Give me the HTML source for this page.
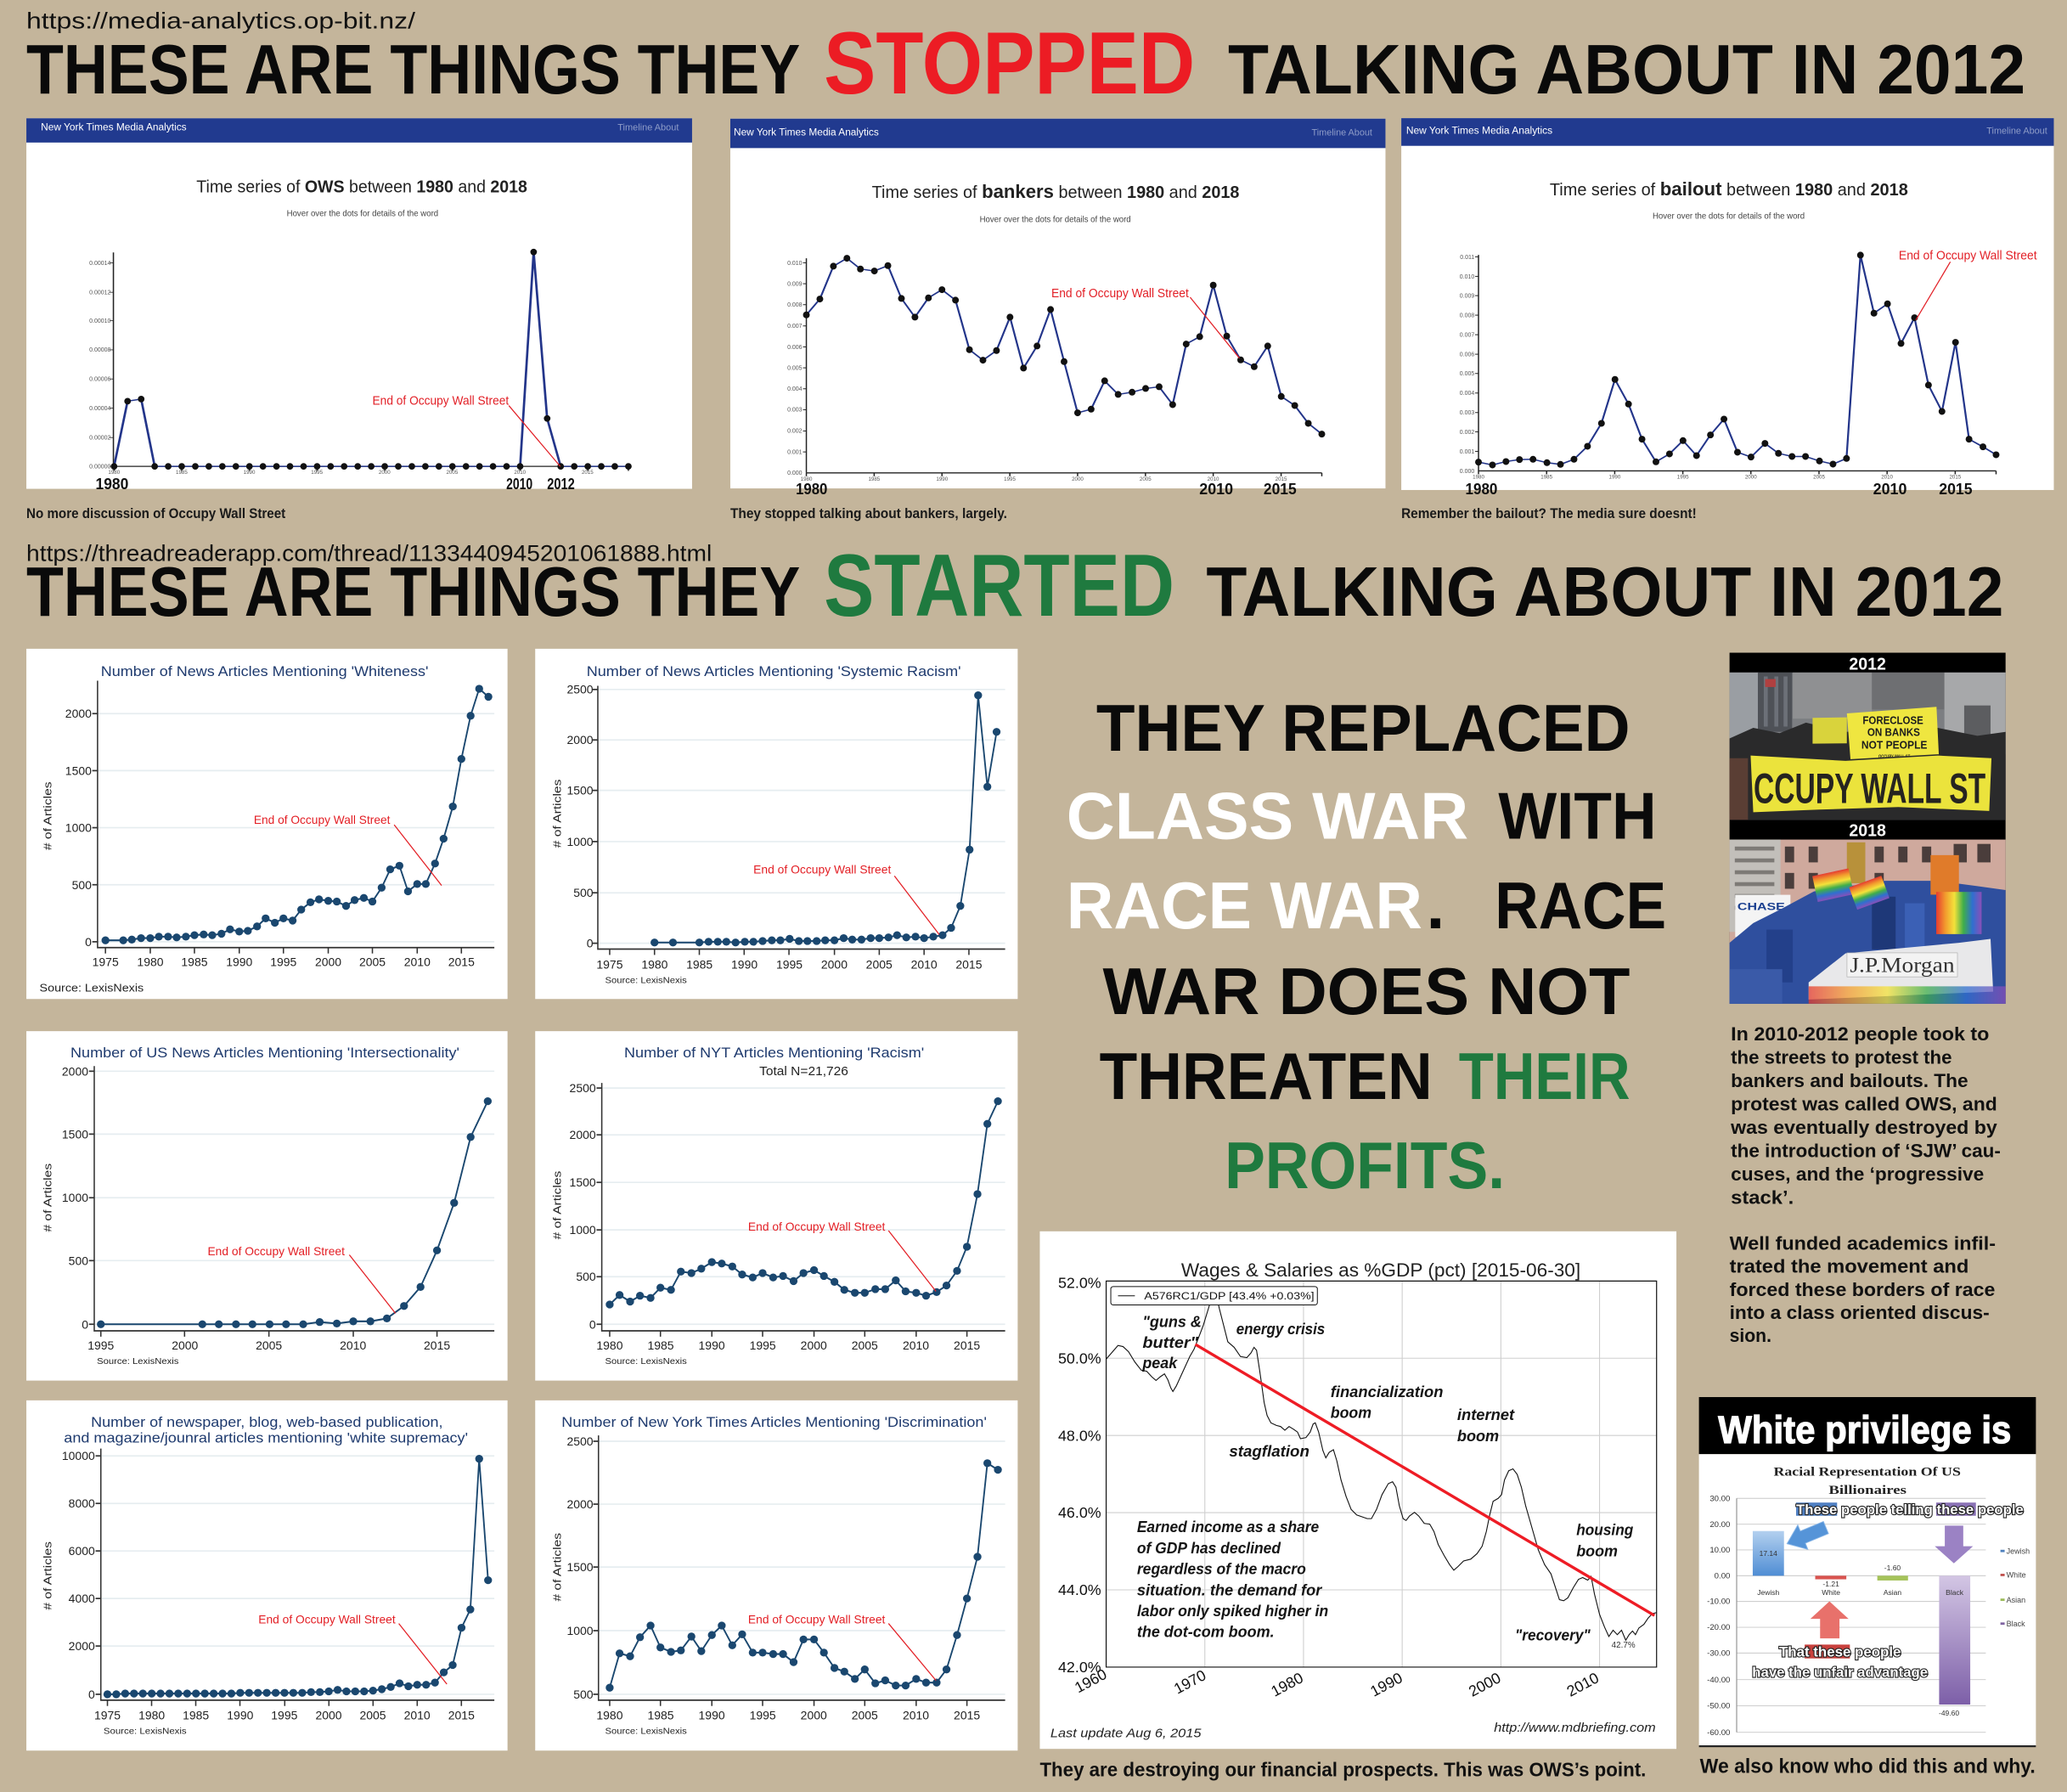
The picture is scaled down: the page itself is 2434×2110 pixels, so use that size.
<!DOCTYPE html>
<html><head><meta charset="utf-8">
<style>
html,body{margin:0;padding:0;background:#c4b59b;overflow:hidden}
svg{display:block}
text{font-family:"Liberation Sans",sans-serif}
.serif{font-family:"Liberation Serif",serif}
.narrow{font-family:"Liberation Sans Narrow","Liberation Sans",sans-serif}
</style></head><body>
<svg xmlns="http://www.w3.org/2000/svg" width="2434" height="2110" viewBox="0 0 1568 1359" preserveAspectRatio="none">
<defs>
<marker id="mO" markerUnits="userSpaceOnUse" markerWidth="1" markerHeight="1" refX="0" refY="0" overflow="visible" style="overflow:visible"><ellipse cx="0" cy="0" rx="5" ry="9.5" fill="#111"/></marker>
<marker id="mT" markerUnits="userSpaceOnUse" markerWidth="1" markerHeight="1" refX="0" refY="0" overflow="visible" style="overflow:visible"><ellipse cx="0" cy="0" rx="8" ry="12" fill="#111"/></marker>
<marker id="mB" markerUnits="userSpaceOnUse" markerWidth="1" markerHeight="1" refX="0" refY="0" overflow="visible" style="overflow:visible"><ellipse cx="0" cy="0" rx="6" ry="5.4" fill="#1a476f"/></marker>
<linearGradient id="gJew" x1="0" y1="0" x2="0" y2="1"><stop offset="0" stop-color="#b3d0ef"/><stop offset="1" stop-color="#4f8dd4"/></linearGradient>
<linearGradient id="gBlk" x1="0" y1="0" x2="0" y2="1"><stop offset="0" stop-color="#d3c6e4"/><stop offset="1" stop-color="#7d5fa8"/></linearGradient>
<linearGradient id="rainbow" x1="0" y1="0" x2="1" y2="0"><stop offset="0" stop-color="#e53b30"/><stop offset=".2" stop-color="#f29a2e"/><stop offset=".4" stop-color="#f4e23a"/><stop offset=".6" stop-color="#3fae4a"/><stop offset=".8" stop-color="#2f6fd0"/><stop offset="1" stop-color="#8a4fb8"/></linearGradient>
<linearGradient id="rainbowV" x1="0" y1="0" x2="0" y2="1"><stop offset="0" stop-color="#e53b30"/><stop offset=".2" stop-color="#f29a2e"/><stop offset=".4" stop-color="#f4e23a"/><stop offset=".6" stop-color="#3fae4a"/><stop offset=".8" stop-color="#2f6fd0"/><stop offset="1" stop-color="#8a4fb8"/></linearGradient>
</defs>
<rect x="0" y="0" width="1568" height="1359" fill="#c4b59b"/>

<!-- ===== HEADER ROW 1 ===== -->
<text x="20" y="21.5" font-size="17" fill="#111" textLength="295" lengthAdjust="spacingAndGlyphs">https://media-analytics.op-bit.nz/</text>
<text x="20" y="71" font-size="53" font-weight="bold" fill="#0a0a0a" textLength="587" lengthAdjust="spacingAndGlyphs">THESE ARE THINGS THEY</text>
<text x="625" y="71" font-size="67" font-weight="bold" fill="#ec1c24" textLength="281.5" lengthAdjust="spacingAndGlyphs">STOPPED</text>
<text x="931.5" y="71" font-size="53" font-weight="bold" fill="#0a0a0a" textLength="605" lengthAdjust="spacingAndGlyphs">TALKING ABOUT IN 2012</text>

<!-- ===== PANEL 1: OWS ===== -->
<rect x="20" y="89.7" width="505" height="281" fill="#fff"/>
<rect x="20" y="89.7" width="505" height="18.4" fill="#213a8f"/>
<text x="31" y="98.8" font-size="7.5" fill="#fff" textLength="110.5" lengthAdjust="spacingAndGlyphs">New York Times Media Analytics</text>
<text x="468.5" y="98.8" font-size="7" fill="#8e9cc8" textLength="46.5" lengthAdjust="spacingAndGlyphs">Timeline  About</text>
<text x="149" y="146" font-size="13" fill="#222" textLength="251" lengthAdjust="spacingAndGlyphs">Time series of <tspan font-weight="bold">OWS</tspan> between <tspan font-weight="bold">1980</tspan> and <tspan font-weight="bold">2018</tspan></text>
<text x="275" y="163.8" font-size="6.3" fill="#444" text-anchor="middle" textLength="115" lengthAdjust="spacingAndGlyphs">Hover over the dots for details of the word</text>
<g transform="matrix(0.5002 0 0 0.26295 0 0)">
<line x1="172" y1="728" x2="172" y2="1345" stroke="#222" stroke-width="2"/>
<line x1="172" y1="1345" x2="953" y2="1345" stroke="#222" stroke-width="3"/>
<g stroke="#222" stroke-width="2">
<line x1="166" y1="758" x2="172" y2="758"/><line x1="166" y1="843" x2="172" y2="843"/><line x1="166" y1="925" x2="172" y2="925"/><line x1="166" y1="1009" x2="172" y2="1009"/><line x1="166" y1="1093" x2="172" y2="1093"/><line x1="166" y1="1177" x2="172" y2="1177"/><line x1="166" y1="1262" x2="172" y2="1262"/><line x1="166" y1="1345" x2="172" y2="1345"/>
<line x1="173" y1="1345" x2="173" y2="1358"/><line x1="275.6" y1="1345" x2="275.6" y2="1358"/><line x1="378.3" y1="1345" x2="378.3" y2="1358"/><line x1="480.9" y1="1345" x2="480.9" y2="1358"/><line x1="583.5" y1="1345" x2="583.5" y2="1358"/><line x1="686.1" y1="1345" x2="686.1" y2="1358"/><line x1="788.8" y1="1345" x2="788.8" y2="1358"/><line x1="891.4" y1="1345" x2="891.4" y2="1358"/><line x1="953" y1="1345" x2="953" y2="1358"/>
</g>
<polyline fill="none" stroke="#23358a" stroke-width="3.5" marker-start="url(#mO)" marker-mid="url(#mO)" marker-end="url(#mO)" points="173,1345 193.5,1157 214.1,1151 234.6,1345 255.1,1345 275.6,1345 296.2,1345 316.7,1345 337.2,1345 357.7,1345 378.3,1345 398.8,1345 419.3,1345 439.8,1345 460.4,1345 480.9,1345 501.4,1345 521.9,1345 542.5,1345 563,1345 583.5,1345 604,1345 624.6,1345 645.1,1345 665.6,1345 686.1,1345 706.7,1345 727.2,1345 747.7,1345 768.2,1345 788.8,1345 809.3,727 829.8,1207 850.3,1345 870.9,1345 891.4,1345 911.9,1345 932.4,1345 953,1345"/>
</g>
<g font-size="4.5" fill="#555" text-anchor="end">
<text x="84" y="200.8">0.00014</text><text x="84" y="223.2">0.00012</text><text x="84" y="244.7">0.00010</text><text x="84" y="266.8">0.00008</text><text x="84" y="288.9">0.00006</text><text x="84" y="311">0.00004</text><text x="84" y="333.3">0.00002</text><text x="84" y="355.2">0.00000</text>
</g>
<g font-size="4" fill="#555" text-anchor="middle">
<text x="86.5" y="359.5">1980</text><text x="137.8" y="359.5">1985</text><text x="189.1" y="359.5">1990</text><text x="240.4" y="359.5">1995</text><text x="291.7" y="359.5">2000</text><text x="343" y="359.5">2005</text><text x="394.4" y="359.5">2010</text><text x="445.7" y="359.5">2015</text>
</g>
<text x="282.5" y="306.8" font-size="9.5" fill="#e21f26" textLength="103.5" lengthAdjust="spacingAndGlyphs">End of Occupy Wall Street</text>
<line x1="386" y1="307.6" x2="425" y2="353.7" stroke="#e21f26" stroke-width="0.8"/>
<g font-size="12" font-weight="bold" fill="#111">
<text x="72.5" y="371" textLength="25" lengthAdjust="spacingAndGlyphs">1980</text>
<text x="384" y="371" textLength="20" lengthAdjust="spacingAndGlyphs">2010</text>
<text x="415" y="371" textLength="21" lengthAdjust="spacingAndGlyphs">2012</text>
</g>
<text x="20" y="393" font-size="11" font-weight="bold" fill="#1a1a1a" textLength="196.6" lengthAdjust="spacingAndGlyphs">No more discussion of Occupy Wall Street</text>

<!-- ===== PANEL 2: bankers ===== -->
<rect x="554" y="90" width="497" height="280.4" fill="#fff"/>
<rect x="554" y="90" width="497" height="22.3" fill="#213a8f"/>
<text x="556.6" y="102.6" font-size="7.5" fill="#fff" textLength="110" lengthAdjust="spacingAndGlyphs">New York Times Media Analytics</text>
<text x="995" y="102.6" font-size="7" fill="#8e9cc8" textLength="46" lengthAdjust="spacingAndGlyphs">Timeline  About</text>
<text x="661.4" y="150" font-size="13" fill="#222" textLength="278.8" lengthAdjust="spacingAndGlyphs">Time series of <tspan font-weight="bold" font-size="14.5">bankers</tspan> between <tspan font-weight="bold">1980</tspan> and <tspan font-weight="bold">2018</tspan></text>
<text x="800.5" y="168.3" font-size="6.3" fill="#444" text-anchor="middle" textLength="114.7" lengthAdjust="spacingAndGlyphs">Hover over the dots for details of the word</text>
<g transform="matrix(0.3205 0 0 0.21474 554.0 90.19)">
<line x1="180" y1="492" x2="180" y2="1250" stroke="#222" stroke-width="3"/>
<line x1="180" y1="1250" x2="1400" y2="1250" stroke="#222" stroke-width="4"/>
<g stroke="#222" stroke-width="3">
<line x1="172" y1="508" x2="180" y2="508"/><line x1="172" y1="582" x2="180" y2="582"/><line x1="172" y1="656" x2="180" y2="656"/><line x1="172" y1="731" x2="180" y2="731"/><line x1="172" y1="805" x2="180" y2="805"/><line x1="172" y1="879" x2="180" y2="879"/><line x1="172" y1="953" x2="180" y2="953"/><line x1="172" y1="1027" x2="180" y2="1027"/><line x1="172" y1="1102" x2="180" y2="1102"/><line x1="172" y1="1176" x2="180" y2="1176"/>
<line x1="180" y1="1250" x2="180" y2="1262"/><line x1="340.5" y1="1250" x2="340.5" y2="1262"/><line x1="501" y1="1250" x2="501" y2="1262"/><line x1="661.6" y1="1250" x2="661.6" y2="1262"/><line x1="822" y1="1250" x2="822" y2="1262"/><line x1="982.6" y1="1250" x2="982.6" y2="1262"/><line x1="1143" y1="1250" x2="1143" y2="1262"/><line x1="1303.7" y1="1250" x2="1303.7" y2="1262"/><line x1="1400" y1="1250" x2="1400" y2="1262"/>
</g>
<polyline fill="none" stroke="#23358a" stroke-width="4.5" marker-start="url(#mT)" marker-mid="url(#mT)" marker-end="url(#mT)" points="180,692 212,636 244,520 276,492 308,530 341,537 373,518 405,634 437,700 469,632 501,603 533,640 566,815 598,852 630,818 662,700 694,880 726,802 758,673 790,857 822,1038 854,1025 886,925 918,973 951,965 983,952 1015,946 1047,1009 1079,795 1111,769 1143,587 1175,767 1208,851 1240,875 1272,802 1304,980 1336,1012 1368,1075 1400,1113"/>
</g>
<g font-size="4.5" fill="#555" text-anchor="end">
<text x="608.5" y="200.8">0.010</text><text x="608.5" y="216.7">0.009</text><text x="608.5" y="232.6">0.008</text><text x="608.5" y="248.7">0.007</text><text x="608.5" y="264.6">0.006</text><text x="608.5" y="280.5">0.005</text><text x="608.5" y="296.3">0.004</text><text x="608.5" y="312.2">0.003</text><text x="608.5" y="328.3">0.002</text><text x="608.5" y="344.2">0.001</text><text x="608.5" y="360.1">0.000</text>
</g>
<g font-size="4" fill="#555" text-anchor="middle">
<text x="611.7" y="364.5">1980</text><text x="663.1" y="364.5">1985</text><text x="714.6" y="364.5">1990</text><text x="766" y="364.5">1995</text><text x="817.5" y="364.5">2000</text><text x="868.9" y="364.5">2005</text><text x="920.3" y="364.5">2010</text><text x="971.8" y="364.5">2015</text>
</g>
<text x="797.5" y="225.5" font-size="9.5" fill="#e21f26" textLength="104.3" lengthAdjust="spacingAndGlyphs">End of Occupy Wall Street</text>
<line x1="902.8" y1="225.4" x2="940.2" y2="271.6" stroke="#e21f26" stroke-width="0.8"/>
<g font-size="12" font-weight="bold" fill="#111">
<text x="603.7" y="375" textLength="24" lengthAdjust="spacingAndGlyphs">1980</text>
<text x="909.8" y="375" textLength="25.6" lengthAdjust="spacingAndGlyphs">2010</text>
<text x="958.5" y="375" textLength="25" lengthAdjust="spacingAndGlyphs">2015</text>
</g>
<text x="554" y="393" font-size="11" font-weight="bold" fill="#1a1a1a" textLength="210" lengthAdjust="spacingAndGlyphs">They stopped talking about bankers, largely.</text>

<!-- ===== PANEL 3: bailout ===== -->
<rect x="1063" y="89.6" width="495" height="282" fill="#fff"/>
<rect x="1063" y="89.6" width="495" height="21" fill="#213a8f"/>
<text x="1066.7" y="101.4" font-size="7.5" fill="#fff" textLength="111" lengthAdjust="spacingAndGlyphs">New York Times Media Analytics</text>
<text x="1507" y="101.4" font-size="7" fill="#8e9cc8" textLength="46" lengthAdjust="spacingAndGlyphs">Timeline  About</text>
<text x="1175.6" y="148.2" font-size="13" fill="#222" textLength="271.8" lengthAdjust="spacingAndGlyphs">Time series of <tspan font-weight="bold" font-size="14.5">bailout</tspan> between <tspan font-weight="bold">1980</tspan> and <tspan font-weight="bold">2018</tspan></text>
<text x="1311.3" y="165.8" font-size="6.3" fill="#444" text-anchor="middle" textLength="115.4" lengthAdjust="spacingAndGlyphs">Hover over the dots for details of the word</text>
<g transform="matrix(0.3205 0 0 0.21474 1059.72 90.19)">
<line x1="193" y1="480" x2="193" y2="1243" stroke="#222" stroke-width="3"/>
<line x1="193" y1="1243" x2="1418" y2="1243" stroke="#222" stroke-width="4"/>
<g stroke="#222" stroke-width="3">
<line x1="185" y1="487" x2="193" y2="487"/><line x1="185" y1="556" x2="193" y2="556"/><line x1="185" y1="624" x2="193" y2="624"/><line x1="185" y1="693" x2="193" y2="693"/><line x1="185" y1="762" x2="193" y2="762"/><line x1="185" y1="831" x2="193" y2="831"/><line x1="185" y1="899" x2="193" y2="899"/><line x1="185" y1="968" x2="193" y2="968"/><line x1="185" y1="1037" x2="193" y2="1037"/><line x1="185" y1="1105" x2="193" y2="1105"/><line x1="185" y1="1174" x2="193" y2="1174"/>
<line x1="193" y1="1243" x2="193" y2="1255"/><line x1="354.2" y1="1243" x2="354.2" y2="1255"/><line x1="515.4" y1="1243" x2="515.4" y2="1255"/><line x1="676.6" y1="1243" x2="676.6" y2="1255"/><line x1="837.7" y1="1243" x2="837.7" y2="1255"/><line x1="998.9" y1="1243" x2="998.9" y2="1255"/><line x1="1160.1" y1="1243" x2="1160.1" y2="1255"/><line x1="1321.3" y1="1243" x2="1321.3" y2="1255"/><line x1="1418" y1="1243" x2="1418" y2="1255"/>
</g>
<polyline fill="none" stroke="#23358a" stroke-width="4.5" marker-start="url(#mT)" marker-mid="url(#mT)" marker-end="url(#mT)" points="193,1212 226,1222 258,1210 290,1203 322,1202 355,1214 387,1220 419,1202 451,1156 484,1075 516,920 548,1007 580,1131 613,1211 645,1183 677,1136 709,1189 742,1116 774,1060 806,1177 838,1194 871,1146 903,1181 935,1192 967,1192 1000,1208 1032,1219 1064,1199 1097,481 1129,686 1161,653 1193,793 1225,702 1258,940 1290,1033 1322,789 1354,1131 1387,1158 1418,1186"/>
</g>
<g font-size="4.5" fill="#555" text-anchor="end">
<text x="1118.5" y="196.3">0.011</text><text x="1118.5" y="211.1">0.010</text><text x="1118.5" y="225.7">0.009</text><text x="1118.5" y="240.5">0.008</text><text x="1118.5" y="255.3">0.007</text><text x="1118.5" y="270.1">0.006</text><text x="1118.5" y="284.7">0.005</text><text x="1118.5" y="299.6">0.004</text><text x="1118.5" y="314.4">0.003</text><text x="1118.5" y="329">0.002</text><text x="1118.5" y="343.8">0.001</text><text x="1118.5" y="358.6">0.000</text>
</g>
<g font-size="4" fill="#555" text-anchor="middle">
<text x="1121.6" y="363">1980</text><text x="1173.2" y="363">1985</text><text x="1224.9" y="363">1990</text><text x="1276.6" y="363">1995</text><text x="1328.2" y="363">2000</text><text x="1379.9" y="363">2005</text><text x="1431.5" y="363">2010</text><text x="1483.2" y="363">2015</text>
</g>
<text x="1440.4" y="196.8" font-size="9.5" fill="#e21f26" textLength="104.8" lengthAdjust="spacingAndGlyphs">End of Occupy Wall Street</text>
<line x1="1479.5" y1="198.6" x2="1453.3" y2="242.7" stroke="#e21f26" stroke-width="0.8"/>
<g font-size="12" font-weight="bold" fill="#111">
<text x="1111.6" y="375" textLength="24.4" lengthAdjust="spacingAndGlyphs">1980</text>
<text x="1420.9" y="375" textLength="25.6" lengthAdjust="spacingAndGlyphs">2010</text>
<text x="1470.9" y="375" textLength="25.3" lengthAdjust="spacingAndGlyphs">2015</text>
</g>
<text x="1063" y="393" font-size="11" font-weight="bold" fill="#1a1a1a" textLength="224" lengthAdjust="spacingAndGlyphs">Remember the bailout? The media sure doesnt!</text>

<!-- ===== HEADER ROW 2 ===== -->
<text x="20" y="425.5" font-size="17" fill="#111" textLength="520" lengthAdjust="spacingAndGlyphs">https://threadreaderapp.com/thread/1133440945201061888.html</text>
<text x="20" y="467" font-size="53" font-weight="bold" fill="#0a0a0a" textLength="587" lengthAdjust="spacingAndGlyphs">THESE ARE THINGS THEY</text>
<text x="625" y="467" font-size="67" font-weight="bold" fill="#1f7a3f" textLength="266" lengthAdjust="spacingAndGlyphs">STARTED</text>
<text x="915" y="467" font-size="53" font-weight="bold" fill="#0a0a0a" textLength="605" lengthAdjust="spacingAndGlyphs">TALKING ABOUT IN 2012</text>

<!-- ===== SIX STATA CHARTS: boxes ===== -->
<g fill="#fff">
<rect x="20" y="492" width="365" height="265.6"/>
<rect x="406" y="492" width="366" height="265.6"/>
<rect x="20" y="782" width="365" height="265"/>
<rect x="406" y="782" width="366" height="265"/>
<rect x="20" y="1062" width="365" height="265.6"/>
<rect x="406" y="1062" width="366" height="265.6"/>
</g>
<g transform="matrix(0.5 0 0 0.5546 0 489.6)">
<!-- gridlines -->
<g stroke="#e6edf0" stroke-width="2">
<line x1="148" y1="93" x2="750" y2="93"/><line x1="148" y1="171" x2="750" y2="171"/><line x1="148" y1="249" x2="750" y2="249"/><line x1="148" y1="327" x2="750" y2="327"/><line x1="148" y1="405" x2="750" y2="405"/>
<line x1="907" y1="60" x2="1525" y2="60"/><line x1="907" y1="129" x2="1525" y2="129"/><line x1="907" y1="198" x2="1525" y2="198"/><line x1="907" y1="268" x2="1525" y2="268"/><line x1="907" y1="338" x2="1525" y2="338"/><line x1="907" y1="407" x2="1525" y2="407"/>
<line x1="143" y1="582" x2="750" y2="582"/><line x1="143" y1="668" x2="750" y2="668"/><line x1="143" y1="755" x2="750" y2="755"/><line x1="143" y1="841" x2="750" y2="841"/><line x1="143" y1="928" x2="750" y2="928"/>
<line x1="913" y1="605" x2="1525" y2="605"/><line x1="913" y1="669" x2="1525" y2="669"/><line x1="913" y1="734" x2="1525" y2="734"/><line x1="913" y1="799" x2="1525" y2="799"/><line x1="913" y1="863" x2="1525" y2="863"/><line x1="913" y1="928" x2="1525" y2="928"/>
<line x1="153" y1="1108" x2="750" y2="1108"/><line x1="153" y1="1173" x2="750" y2="1173"/><line x1="153" y1="1238" x2="750" y2="1238"/><line x1="153" y1="1303" x2="750" y2="1303"/><line x1="153" y1="1368" x2="750" y2="1368"/><line x1="153" y1="1434" x2="750" y2="1434"/>
<line x1="908" y1="1088" x2="1525" y2="1088"/><line x1="908" y1="1174" x2="1525" y2="1174"/><line x1="908" y1="1260" x2="1525" y2="1260"/><line x1="908" y1="1347" x2="1525" y2="1347"/><line x1="908" y1="1434" x2="1525" y2="1434"/>
</g>
<!-- axes -->
<g stroke="#333" stroke-width="2" fill="none">
<polyline points="148,48 148,413 750,413"/>
<polyline points="907,55 907,415 1525,415"/>
<polyline points="143,575 143,937 750,937"/>
<polyline points="913,598 913,937 1525,937"/>
<polyline points="153,1098 153,1442 750,1442"/>
<polyline points="908,1080 908,1442 1525,1442"/>
</g>
<g stroke="#333" stroke-width="2">
<line x1="140" y1="93" x2="148" y2="93"/><line x1="140" y1="171" x2="148" y2="171"/><line x1="140" y1="249" x2="148" y2="249"/><line x1="140" y1="327" x2="148" y2="327"/><line x1="140" y1="405" x2="148" y2="405"/>
<line x1="160" y1="413" x2="160" y2="421"/><line x1="228" y1="413" x2="228" y2="421"/><line x1="295" y1="413" x2="295" y2="421"/><line x1="363" y1="413" x2="363" y2="421"/><line x1="430" y1="413" x2="430" y2="421"/><line x1="498" y1="413" x2="498" y2="421"/><line x1="565" y1="413" x2="565" y2="421"/><line x1="633" y1="413" x2="633" y2="421"/><line x1="700" y1="413" x2="700" y2="421"/>
<line x1="899" y1="60" x2="907" y2="60"/><line x1="899" y1="129" x2="907" y2="129"/><line x1="899" y1="198" x2="907" y2="198"/><line x1="899" y1="268" x2="907" y2="268"/><line x1="899" y1="338" x2="907" y2="338"/><line x1="899" y1="407" x2="907" y2="407"/>
<line x1="925" y1="415" x2="925" y2="423"/><line x1="993" y1="415" x2="993" y2="423"/><line x1="1061" y1="415" x2="1061" y2="423"/><line x1="1129" y1="415" x2="1129" y2="423"/><line x1="1197" y1="415" x2="1197" y2="423"/><line x1="1266" y1="415" x2="1266" y2="423"/><line x1="1334" y1="415" x2="1334" y2="423"/><line x1="1402" y1="415" x2="1402" y2="423"/><line x1="1470" y1="415" x2="1470" y2="423"/>
<line x1="135" y1="582" x2="143" y2="582"/><line x1="135" y1="668" x2="143" y2="668"/><line x1="135" y1="755" x2="143" y2="755"/><line x1="135" y1="841" x2="143" y2="841"/><line x1="135" y1="928" x2="143" y2="928"/>
<line x1="153" y1="937" x2="153" y2="945"/><line x1="280" y1="937" x2="280" y2="945"/><line x1="408" y1="937" x2="408" y2="945"/><line x1="536" y1="937" x2="536" y2="945"/><line x1="663" y1="937" x2="663" y2="945"/>
<line x1="905" y1="605" x2="913" y2="605"/><line x1="905" y1="669" x2="913" y2="669"/><line x1="905" y1="734" x2="913" y2="734"/><line x1="905" y1="799" x2="913" y2="799"/><line x1="905" y1="863" x2="913" y2="863"/><line x1="905" y1="928" x2="913" y2="928"/>
<line x1="925" y1="937" x2="925" y2="945"/><line x1="1002" y1="937" x2="1002" y2="945"/><line x1="1080" y1="937" x2="1080" y2="945"/><line x1="1157" y1="937" x2="1157" y2="945"/><line x1="1235" y1="937" x2="1235" y2="945"/><line x1="1312" y1="937" x2="1312" y2="945"/><line x1="1390" y1="937" x2="1390" y2="945"/><line x1="1467" y1="937" x2="1467" y2="945"/>
<line x1="145" y1="1108" x2="153" y2="1108"/><line x1="145" y1="1173" x2="153" y2="1173"/><line x1="145" y1="1238" x2="153" y2="1238"/><line x1="145" y1="1303" x2="153" y2="1303"/><line x1="145" y1="1368" x2="153" y2="1368"/><line x1="145" y1="1434" x2="153" y2="1434"/>
<line x1="163" y1="1442" x2="163" y2="1450"/><line x1="230" y1="1442" x2="230" y2="1450"/><line x1="297" y1="1442" x2="297" y2="1450"/><line x1="364" y1="1442" x2="364" y2="1450"/><line x1="432" y1="1442" x2="432" y2="1450"/><line x1="499" y1="1442" x2="499" y2="1450"/><line x1="566" y1="1442" x2="566" y2="1450"/><line x1="633" y1="1442" x2="633" y2="1450"/><line x1="700" y1="1442" x2="700" y2="1450"/>
<line x1="900" y1="1088" x2="908" y2="1088"/><line x1="900" y1="1174" x2="908" y2="1174"/><line x1="900" y1="1260" x2="908" y2="1260"/><line x1="900" y1="1347" x2="908" y2="1347"/><line x1="900" y1="1434" x2="908" y2="1434"/>
<line x1="925" y1="1442" x2="925" y2="1450"/><line x1="1002" y1="1442" x2="1002" y2="1450"/><line x1="1080" y1="1442" x2="1080" y2="1450"/><line x1="1157" y1="1442" x2="1157" y2="1450"/><line x1="1235" y1="1442" x2="1235" y2="1450"/><line x1="1312" y1="1442" x2="1312" y2="1450"/><line x1="1390" y1="1442" x2="1390" y2="1450"/><line x1="1467" y1="1442" x2="1467" y2="1450"/>
</g>
<!-- series -->
<g fill="none" stroke="#1a476f" stroke-width="2.4" marker-start="url(#mB)" marker-mid="url(#mB)" marker-end="url(#mB)">
<polyline points="160,403 187,403 200,402 214,400 228,400 241,398 255,398 268,399 282,398 295,396 309,395 322,396 336,394 349,388 363,391 376,390 390,384 403,373 417,379 430,373 444,376 457,361 471,351 484,347 498,349 511,350 525,356 538,348 552,345 565,350 579,331 592,306 606,301 619,336 633,326 646,326 660,298 673,264 687,220 700,155 714,96 727,59 741,70"/>
<polyline points="993,406 1021,406 1061,406 1075,405 1089,405 1102,405 1116,406 1130,405 1143,405 1157,404 1171,403 1184,403 1198,401 1212,404 1225,404 1239,404 1252,403 1266,403 1280,400 1293,402 1307,402 1321,400 1334,400 1348,399 1361,396 1375,399 1389,398 1402,400 1416,398 1430,396 1443,386 1457,356 1471,279 1484,68 1498,193 1512,118"/>
<polyline points="153,928 307,928 332,928 358,928 383,928 409,928 434,928 460,928 485,925 511,927 536,924 562,924 587,920 613,903 638,877 663,827 689,762 714,672 740,623"/>
<polyline points="925,901 940,888 956,897 971,889 987,892 1002,878 1018,881 1033,856 1049,858 1064,852 1080,843 1095,845 1111,849 1126,860 1142,864 1157,858 1173,864 1188,862 1204,869 1219,858 1235,854 1250,862 1266,870 1281,881 1297,885 1312,885 1328,880 1343,880 1359,868 1374,883 1390,885 1405,889 1421,884 1436,875 1452,855 1467,822 1483,750 1498,654 1514,623"/>
<polyline points="163,1434 176.4,1434 189.9,1433 203.3,1433 216.7,1433 230.2,1433 243.6,1433 257,1433 270.4,1433 283.9,1433 297.3,1433 310.7,1433 324.2,1433 337.6,1433 351,1433 364.5,1432 377.9,1432 391.3,1432 404.7,1432 418.2,1432 431.6,1432 445,1432 458.5,1432 471.9,1431 485.3,1431 498.8,1430 512.2,1428 525.6,1430 539,1430 552.5,1430 565.9,1429 579.3,1427 592.8,1424 606.2,1419 619.6,1423 633,1421 646.5,1421 659.9,1418 673.3,1404 686.8,1394 700.2,1343 713.6,1318 727,1112 740.5,1278"/>
<polyline points="925,1425 940,1378 956,1382 971,1356 987,1340 1002,1370 1018,1376 1033,1374 1049,1355 1064,1375 1080,1353 1095,1340 1111,1367 1126,1352 1142,1377 1157,1377 1173,1379 1188,1379 1204,1390 1219,1359 1235,1359 1250,1377 1266,1398 1281,1403 1297,1413 1312,1400 1328,1419 1343,1415 1359,1422 1374,1422 1390,1413 1405,1418 1421,1418 1436,1400 1452,1353 1467,1303 1483,1246 1498,1118 1514,1127"/>
</g>
</g>
<!-- chart titles -->
<g font-size="10.5" fill="#1e3a6e">
<text x="76.5" y="512.8" textLength="248.5" lengthAdjust="spacingAndGlyphs">Number of News Articles Mentioning 'Whiteness'</text>
<text x="445" y="512.8" textLength="284" lengthAdjust="spacingAndGlyphs">Number of News Articles Mentioning 'Systemic Racism'</text>
<text x="53.5" y="801.8" textLength="295" lengthAdjust="spacingAndGlyphs">Number of US News Articles Mentioning 'Intersectionality'</text>
<text x="473.5" y="801.8" textLength="227.5" lengthAdjust="spacingAndGlyphs">Number of NYT Articles Mentioning 'Racism'</text>
<text x="69" y="1082" textLength="267" lengthAdjust="spacingAndGlyphs">Number of newspaper, blog, web-based publication,</text>
<text x="48.5" y="1094" textLength="306.5" lengthAdjust="spacingAndGlyphs">and magazine/jounral articles mentioning 'white supremacy'</text>
<text x="426" y="1082" textLength="322.5" lengthAdjust="spacingAndGlyphs">Number of New York Times Articles Mentioning 'Discrimination'</text>
</g>
<text x="576" y="815.5" font-size="9.5" fill="#222" textLength="67.5" lengthAdjust="spacingAndGlyphs">Total N=21,726</text>
<!-- y axis titles -->
<g font-size="8.5" fill="#222" text-anchor="middle">
<text transform="translate(39,618.8) rotate(-90)" textLength="52" lengthAdjust="spacingAndGlyphs"># of Articles</text>
<text transform="translate(425.5,617) rotate(-90)" textLength="52" lengthAdjust="spacingAndGlyphs"># of Articles</text>
<text transform="translate(39,908.3) rotate(-90)" textLength="52" lengthAdjust="spacingAndGlyphs"># of Articles</text>
<text transform="translate(425.5,914) rotate(-90)" textLength="52" lengthAdjust="spacingAndGlyphs"># of Articles</text>
<text transform="translate(39,1195) rotate(-90)" textLength="52" lengthAdjust="spacingAndGlyphs"># of Articles</text>
<text transform="translate(425.5,1188.5) rotate(-90)" textLength="52" lengthAdjust="spacingAndGlyphs"># of Articles</text>
</g>
<!-- sources -->
<text x="30" y="752" font-size="8.5" fill="#222" textLength="79" lengthAdjust="spacingAndGlyphs">Source: LexisNexis</text>
<g font-size="6.5" fill="#222">
<text x="459" y="745.5" textLength="62" lengthAdjust="spacingAndGlyphs">Source: LexisNexis</text>
<text x="73.5" y="1034.5" textLength="62" lengthAdjust="spacingAndGlyphs">Source: LexisNexis</text>
<text x="459" y="1034.5" textLength="62" lengthAdjust="spacingAndGlyphs">Source: LexisNexis</text>
<text x="78.5" y="1315" textLength="63" lengthAdjust="spacingAndGlyphs">Source: LexisNexis</text>
<text x="459" y="1315" textLength="62" lengthAdjust="spacingAndGlyphs">Source: LexisNexis</text>
</g>
<!-- y tick labels -->
<g font-size="9" fill="#222" text-anchor="end">
<text x="69.5" y="544.4">2000</text><text x="69.5" y="587.6">1500</text><text x="69.5" y="630.9">1000</text><text x="69.5" y="674.2">500</text><text x="69.5" y="717.4">0</text>
<text x="450" y="526">2500</text><text x="450" y="564.3">2000</text><text x="450" y="602.6">1500</text><text x="450" y="641.4">1000</text><text x="450" y="680.2">500</text><text x="450" y="718.5">0</text>
<text x="67" y="815.6">2000</text><text x="67" y="863.3">1500</text><text x="67" y="911.5">1000</text><text x="67" y="959.2">500</text><text x="67" y="1007.5">0</text>
<text x="452" y="828.4">2500</text><text x="452" y="863.8">2000</text><text x="452" y="899.9">1500</text><text x="452" y="935.9">1000</text><text x="452" y="971.4">500</text><text x="452" y="1007.5">0</text>
<text x="72" y="1107.3">10000</text><text x="72" y="1143.4">8000</text><text x="72" y="1179.4">6000</text><text x="72" y="1215.4">4000</text><text x="72" y="1251.5">2000</text><text x="72" y="1288.1">0</text>
<text x="450" y="1096.2">2500</text><text x="450" y="1143.9">2000</text><text x="450" y="1191.6">1500</text><text x="450" y="1239.8">1000</text><text x="450" y="1288.1">500</text>
</g>
<!-- x tick labels -->
<g font-size="9" fill="#222" text-anchor="middle">
<text x="80" y="732.5">1975</text><text x="114" y="732.5">1980</text><text x="147.5" y="732.5">1985</text><text x="181.5" y="732.5">1990</text><text x="215" y="732.5">1995</text><text x="249" y="732.5">2000</text><text x="282.5" y="732.5">2005</text><text x="316.5" y="732.5">2010</text><text x="350" y="732.5">2015</text>
<text x="462.5" y="734.5">1975</text><text x="496.6" y="734.5">1980</text><text x="530.6" y="734.5">1985</text><text x="564.7" y="734.5">1990</text><text x="598.8" y="734.5">1995</text><text x="632.9" y="734.5">2000</text><text x="666.9" y="734.5">2005</text><text x="701" y="734.5">2010</text><text x="735" y="734.5">2015</text>
<text x="76.5" y="1023.5">1995</text><text x="140.3" y="1023.5">2000</text><text x="204" y="1023.5">2005</text><text x="267.8" y="1023.5">2010</text><text x="331.5" y="1023.5">2015</text>
<text x="462.5" y="1023.5">1980</text><text x="501.2" y="1023.5">1985</text><text x="539.9" y="1023.5">1990</text><text x="578.6" y="1023.5">1995</text><text x="617.3" y="1023.5">2000</text><text x="656" y="1023.5">2005</text><text x="694.8" y="1023.5">2010</text><text x="733.5" y="1023.5">2015</text>
<text x="81.5" y="1304">1975</text><text x="115.1" y="1304">1980</text><text x="148.6" y="1304">1985</text><text x="182.2" y="1304">1990</text><text x="215.7" y="1304">1995</text><text x="249.3" y="1304">2000</text><text x="282.8" y="1304">2005</text><text x="316.4" y="1304">2010</text><text x="350" y="1304">2015</text>
<text x="462.5" y="1304">1980</text><text x="501.2" y="1304">1985</text><text x="539.9" y="1304">1990</text><text x="578.6" y="1304">1995</text><text x="617.3" y="1304">2000</text><text x="656" y="1304">2005</text><text x="694.8" y="1304">2010</text><text x="733.5" y="1304">2015</text>
</g>
<!-- red annotations -->
<g font-size="9" fill="#e31e24">
<text x="192.5" y="624.8" textLength="103.5" lengthAdjust="spacingAndGlyphs">End of Occupy Wall Street</text>
<text x="571.5" y="662.5" textLength="104.5" lengthAdjust="spacingAndGlyphs">End of Occupy Wall Street</text>
<text x="157.5" y="952" textLength="104" lengthAdjust="spacingAndGlyphs">End of Occupy Wall Street</text>
<text x="567.5" y="933.2" textLength="104" lengthAdjust="spacingAndGlyphs">End of Occupy Wall Street</text>
<text x="196" y="1231" textLength="104" lengthAdjust="spacingAndGlyphs">End of Occupy Wall Street</text>
<text x="567.5" y="1231" textLength="104" lengthAdjust="spacingAndGlyphs">End of Occupy Wall Street</text>
</g>
<g stroke="#e31e24" stroke-width="0.8">
<line x1="299" y1="625.5" x2="335" y2="671.5"/>
<line x1="678.5" y1="664.3" x2="712.5" y2="708.7"/>
<line x1="265" y1="951.6" x2="300" y2="996"/>
<line x1="674" y1="933.3" x2="710" y2="979.3"/>
<line x1="302.5" y1="1231.2" x2="339" y2="1277.2"/>
<line x1="674" y1="1231.2" x2="710" y2="1274.4"/>
</g>

<!-- ===== BIG MIDDLE TEXT ===== -->
<g font-size="50" font-weight="bold">
<text x="831.6" y="569.3" fill="#0a0a0a" textLength="405" lengthAdjust="spacingAndGlyphs">THEY REPLACED</text>
<text x="809" y="636" fill="#ffffff" textLength="305" lengthAdjust="spacingAndGlyphs">CLASS WAR</text>
<text x="1136.6" y="636" fill="#0a0a0a" textLength="120" lengthAdjust="spacingAndGlyphs">WITH</text>
<text x="809" y="704" fill="#ffffff" textLength="270" lengthAdjust="spacingAndGlyphs">RACE WAR</text>
<text x="1082" y="704" fill="#0a0a0a">.</text>
<text x="1134" y="704" fill="#0a0a0a" textLength="130" lengthAdjust="spacingAndGlyphs">RACE</text>
<text x="836.5" y="769" fill="#0a0a0a" textLength="400" lengthAdjust="spacingAndGlyphs">WAR DOES NOT</text>
<text x="834" y="833.5" fill="#0a0a0a" textLength="252.6" lengthAdjust="spacingAndGlyphs">THREATEN</text>
<text x="1106.6" y="833.5" fill="#1f7a3f" textLength="130" lengthAdjust="spacingAndGlyphs">THEIR</text>
<text x="929" y="901" fill="#1f7a3f" textLength="212.6" lengthAdjust="spacingAndGlyphs">PROFITS.</text>
</g>

<!-- ===== PHOTOS ===== -->
<rect x="1312" y="495" width="209.4" height="266.2" fill="#000"/>
<text x="1416.7" y="507.8" font-size="13" font-weight="bold" fill="#fff" text-anchor="middle" textLength="28" lengthAdjust="spacingAndGlyphs">2012</text>
<text x="1416.7" y="634.2" font-size="13" font-weight="bold" fill="#fff" text-anchor="middle" textLength="28" lengthAdjust="spacingAndGlyphs">2018</text>
<!-- photo 1 -->
<g>
<rect x="1312" y="510" width="209.4" height="111.7" fill="#7c7e82"/>
<rect x="1312" y="510" width="22" height="60" fill="#9a9ea3"/>
<rect x="1333.5" y="510" width="26" height="45" fill="#4e5157"/>
<rect x="1338" y="513" width="3" height="38" fill="#6c7078"/><rect x="1346" y="513" width="3" height="38" fill="#6c7078"/><rect x="1353" y="513" width="3" height="38" fill="#6c7078"/>
<rect x="1360" y="510" width="60" height="35" fill="#8f9092"/>
<rect x="1420" y="510" width="55" height="28" fill="#6e6f72"/>
<rect x="1475" y="510" width="46.4" height="62" fill="#a7a8aa"/>
<rect x="1490" y="535" width="20" height="30" fill="#5c5d60"/>
<rect x="1339" y="515" width="8" height="6" fill="#b04040"/>
<polygon points="1312,560 1330,552 1350,556 1370,548 1400,555 1470,552 1500,558 1521.4,555 1521.4,621.7 1312,621.7" fill="#2a2a2b"/>
<polygon points="1375,544.4 1401,544 1401,563.7 1375,564" fill="#d9d33c"/>
<polygon points="1401,541 1469,536 1471,577 1404,579" fill="#efe640"/>
<g font-weight="bold" fill="#1d1d1d" text-anchor="middle" class="narrow">
<text x="1436" y="549" font-size="8.5" textLength="46" lengthAdjust="spacingAndGlyphs">FORECLOSE</text>
<text x="1436.5" y="558" font-size="8.5" textLength="40" lengthAdjust="spacingAndGlyphs">ON BANKS</text>
<text x="1437" y="567.8" font-size="8.5" textLength="50" lengthAdjust="spacingAndGlyphs">NOT PEOPLE</text>
<text x="1437" y="575" font-size="3.5" textLength="24" lengthAdjust="spacingAndGlyphs">OCCUPY WALL ST</text>
</g>
<polygon points="1312,575 1328,572 1400,576 1470,572 1510.7,574 1510,615 1440,612 1380,614 1329,616 1312,617" fill="#2a2a2b"/>
<polygon points="1328,573 1400,577 1470,573 1510.7,575 1509,615 1440,612 1380,614 1330,616" fill="#ebe33c"/>
<text x="1330.3" y="609" font-size="32" font-weight="bold" fill="#262420" class="narrow" textLength="176" lengthAdjust="spacingAndGlyphs">CCUPY WALL ST</text>
<rect x="1312" y="575" width="14" height="46.7" fill="#5a3e34"/>
</g>
<!-- photo 2 -->
<g>
<rect x="1312" y="636.7" width="209.4" height="124.5" fill="#cfa99d"/>
<rect x="1312" y="636.7" width="38.7" height="70" fill="#c2bfba"/>
<g fill="#7d7a76">
<rect x="1316" y="642" width="30" height="3"/><rect x="1316" y="651" width="30" height="3"/><rect x="1316" y="660" width="30" height="3"/><rect x="1316" y="669" width="30" height="3"/><rect x="1316" y="678" width="30" height="3"/><rect x="1316" y="687" width="30" height="3"/>
</g>
<g fill="#4a3d3b">
<rect x="1354" y="642" width="7" height="12"/><rect x="1372" y="642" width="7" height="12"/><rect x="1422" y="642" width="7" height="12"/><rect x="1440" y="642" width="7" height="12"/><rect x="1458" y="642" width="7" height="12"/><rect x="1482" y="640" width="10" height="14"/><rect x="1500" y="640" width="10" height="14"/>
<rect x="1354" y="662" width="7" height="12"/><rect x="1372" y="662" width="7" height="12"/><rect x="1390" y="662" width="7" height="12"/><rect x="1422" y="662" width="7" height="12"/>
</g>
<rect x="1401" y="638.8" width="14" height="31" fill="#b8913a"/>
<rect x="1316.3" y="678.6" width="41.9" height="32" fill="#f4f4f4"/>
<text x="1318" y="690" font-size="8" font-weight="bold" fill="#1a3f8f" textLength="36" lengthAdjust="spacingAndGlyphs">CHASE</text>
<polygon points="1330,700 1350,690 1376,676 1430,668 1470,668 1500,672 1521.4,675 1521.4,761.2 1312,761.2 1312,715" fill="#2f4f9e"/>
<rect x="1340" y="705" width="20" height="40" fill="#23408a"/>
<rect x="1420" y="680" width="18" height="40" fill="#1e3878"/>
<rect x="1445" y="685" width="15" height="35" fill="#3b60b5"/>
<rect x="1376.5" y="661.4" width="28" height="20" fill="url(#rainbowV)" transform="rotate(-12 1390 671)"/>
<rect x="1405" y="668" width="26" height="18" fill="url(#rainbowV)" transform="rotate(-20 1418 677)"/>
<rect x="1464.5" y="648.5" width="21.5" height="30" fill="#e07b2a"/>
<rect x="1468.8" y="676.4" width="34.4" height="32" fill="url(#rainbow)"/>
<polygon points="1372,745 1400,723 1486,715 1510,712 1512,752 1372,758" fill="#e8e8ea"/>
<rect x="1401.1" y="722.6" width="83.8" height="18.2" fill="#f3f3f3" stroke="#aaa" stroke-width="0.4"/>
<text x="1403.3" y="737" font-size="16" fill="#333" class="serif" textLength="79.4" lengthAdjust="spacingAndGlyphs">J.P.Morgan</text>
<rect x="1372" y="748" width="149.4" height="13.2" fill="url(#rainbow)" opacity="0.75"/>
<rect x="1312" y="735" width="40" height="26.2" fill="#3a5aa8"/>
</g>

<!-- ===== RIGHT TEXT 1 ===== -->
<g font-size="14.5" font-weight="bold" fill="#111">
<text x="1313" y="789" textLength="196" lengthAdjust="spacingAndGlyphs">In 2010-2012 people took to</text>
<text x="1313" y="806.7" textLength="167.7" lengthAdjust="spacingAndGlyphs">the streets to protest the</text>
<text x="1313" y="824.4" textLength="180" lengthAdjust="spacingAndGlyphs">bankers and bailouts. The</text>
<text x="1313" y="842.1" textLength="202" lengthAdjust="spacingAndGlyphs">protest was called OWS, and</text>
<text x="1313" y="859.8" textLength="202" lengthAdjust="spacingAndGlyphs">was eventually destroyed by</text>
<text x="1313" y="877.5" textLength="204.7" lengthAdjust="spacingAndGlyphs">the introduction of ‘SJW’ cau-</text>
<text x="1313" y="895.2" textLength="192" lengthAdjust="spacingAndGlyphs">cuses, and the ‘progressive</text>
<text x="1313" y="912.9" textLength="47.7" lengthAdjust="spacingAndGlyphs">stack’.</text>
</g>
<g font-size="14.5" font-weight="bold" fill="#111">
<text x="1312" y="947.7" textLength="201.9" lengthAdjust="spacingAndGlyphs">Well funded academics infil-</text>
<text x="1312" y="965.3" textLength="181.5" lengthAdjust="spacingAndGlyphs">trated the movement and</text>
<text x="1312" y="982.8" textLength="201.5" lengthAdjust="spacingAndGlyphs">forced these borders of race</text>
<text x="1312" y="1000.3" textLength="197.2" lengthAdjust="spacingAndGlyphs">into a class oriented discus-</text>
<text x="1312" y="1017.8" textLength="31.8" lengthAdjust="spacingAndGlyphs">sion.</text>
</g>

<!-- ===== WAGES CHART ===== -->
<rect x="788.8" y="933.8" width="482.9" height="392.5" fill="#fff"/>
<g transform="matrix(0.32045 0 0 0.27937 784.0 921.2)">
<g stroke="#cfcfcf" stroke-width="1.1" vector-effect="non-scaling-stroke">
<line x1="405.6" y1="180" x2="405.6" y2="1228" vector-effect="non-scaling-stroke"/>
<line x1="639.2" y1="180" x2="639.2" y2="1228" vector-effect="non-scaling-stroke"/>
<line x1="872.8" y1="180" x2="872.8" y2="1228" vector-effect="non-scaling-stroke"/>
<line x1="1106.4" y1="180" x2="1106.4" y2="1228" vector-effect="non-scaling-stroke"/>
<line x1="1340" y1="180" x2="1340" y2="1228" vector-effect="non-scaling-stroke"/>
<line x1="172" y1="389.6" x2="1475" y2="389.6" vector-effect="non-scaling-stroke"/>
<line x1="172" y1="599.2" x2="1475" y2="599.2" vector-effect="non-scaling-stroke"/>
<line x1="172" y1="808.8" x2="1475" y2="808.8" vector-effect="non-scaling-stroke"/>
<line x1="172" y1="1018.4" x2="1475" y2="1018.4" vector-effect="non-scaling-stroke"/>
</g>
<rect x="1175" y="675" width="155" height="125" fill="#fff"/>
<polyline fill="none" stroke="#111" stroke-width="1.1" vector-effect="non-scaling-stroke" points="172,392 185,375 200,355 212,358 225,372 240,400 255,422 268,425 280,440 290,450 300,440 310,432 318,448 325,470 330,480 338,465 348,440 358,415 370,385 380,365 392,330 402,300 410,270 418,240 425,215 432,215 440,255 450,300 460,345 475,360 490,385 505,388 515,375 522,360 528,368 535,420 540,460 546,510 553,545 562,565 575,572 585,575 595,585 605,575 615,582 625,590 632,608 645,605 655,590 662,568 667,565 675,590 685,640 692,660 700,645 710,638 718,668 728,720 740,765 752,800 765,815 790,825 800,825 812,800 825,760 840,730 850,725 858,740 866,790 875,825 882,830 890,818 902,808 912,818 925,838 938,840 948,860 958,895 972,925 985,950 995,965 1005,955 1018,940 1035,935 1050,920 1062,900 1072,860 1080,815 1088,778 1100,770 1108,760 1115,720 1125,695 1135,690 1145,705 1155,740 1165,790 1175,830 1185,870 1195,910 1210,950 1225,975 1235,1010 1245,1045 1255,1048 1265,1040 1278,1012 1290,990 1300,985 1312,992 1320,982 1328,1030 1340,1085 1352,1120 1362,1145 1372,1128 1382,1140 1392,1128 1402,1155 1410,1140 1418,1130 1425,1140 1433,1122 1445,1112 1455,1095 1465,1083 1475,1080"/>
<line x1="383" y1="352" x2="1470" y2="1088" stroke="#ee1c25" stroke-width="3.4" vector-effect="non-scaling-stroke"/>
<rect x="172" y="180" width="1303" height="1048" fill="none" stroke="#111" stroke-width="1.2" vector-effect="non-scaling-stroke"/>
<rect x="183" y="195" width="489" height="50" rx="6" fill="#fff" stroke="#111" stroke-width="1" vector-effect="non-scaling-stroke"/>
<line x1="200" y1="220" x2="240" y2="220" stroke="#111" stroke-width="1" vector-effect="non-scaling-stroke"/>
</g>
<text x="896" y="968" font-size="14.5" fill="#222" textLength="303" lengthAdjust="spacingAndGlyphs">Wages &amp; Salaries as %GDP (pct) [2015-06-30]</text>
<text x="868" y="985.5" font-size="8" fill="#111" textLength="129" lengthAdjust="spacingAndGlyphs">A576RC1/GDP [43.4% +0.03%]</text>
<g font-size="11.5" fill="#111" text-anchor="end">
<text x="835.3" y="976.9">52.0%</text><text x="835.3" y="1034.2">50.0%</text><text x="835.3" y="1092.8">48.0%</text><text x="835.3" y="1150.9">46.0%</text><text x="835.3" y="1209.7">44.0%</text><text x="835.3" y="1268.3">42.0%</text>
</g>
<g font-size="11.5" fill="#111" text-anchor="middle">
<text transform="translate(827.3,1274.6) rotate(-28)" y="4">1960</text>
<text transform="translate(902.6,1275.4) rotate(-28)" y="4">1970</text>
<text transform="translate(976.3,1277.4) rotate(-28)" y="4">1980</text>
<text transform="translate(1051.6,1277.4) rotate(-28)" y="4">1990</text>
<text transform="translate(1126.2,1277.4) rotate(-28)" y="4">2000</text>
<text transform="translate(1200.6,1277.4) rotate(-28)" y="4">2010</text>
</g>
<g font-size="12" font-weight="bold" font-style="italic" fill="#151515">
<text x="866.7" y="1006.4" textLength="44.8" lengthAdjust="spacingAndGlyphs">"guns &amp;</text>
<text x="866.7" y="1022.3" textLength="42.3" lengthAdjust="spacingAndGlyphs">butter"</text>
<text x="866.7" y="1037.5" textLength="26.3" lengthAdjust="spacingAndGlyphs">peak</text>
<text x="937.8" y="1012" textLength="67.3" lengthAdjust="spacingAndGlyphs">energy crisis</text>
<text x="1009.3" y="1059.5" textLength="85.5" lengthAdjust="spacingAndGlyphs">financialization</text>
<text x="1009.3" y="1075.4" textLength="31.1" lengthAdjust="spacingAndGlyphs">boom</text>
<text x="1105.4" y="1076.8" textLength="43.3" lengthAdjust="spacingAndGlyphs">internet</text>
<text x="1105.4" y="1093" textLength="31.7" lengthAdjust="spacingAndGlyphs">boom</text>
<text x="932.4" y="1104.7" textLength="60.9" lengthAdjust="spacingAndGlyphs">stagflation</text>
<text x="862.5" y="1162" textLength="138.1" lengthAdjust="spacingAndGlyphs">Earned income as a share</text>
<text x="862.5" y="1178" textLength="109" lengthAdjust="spacingAndGlyphs">of GDP has declined</text>
<text x="862.5" y="1193.9" textLength="128.2" lengthAdjust="spacingAndGlyphs">regardless of the macro</text>
<text x="862.5" y="1209.8" textLength="140.1" lengthAdjust="spacingAndGlyphs">situation. the demand for</text>
<text x="862.5" y="1225.7" textLength="145.2" lengthAdjust="spacingAndGlyphs">labor only spiked higher in</text>
<text x="862.5" y="1241.6" textLength="104.2" lengthAdjust="spacingAndGlyphs">the dot-com boom.</text>
<text x="1195.8" y="1164.3" textLength="43.2" lengthAdjust="spacingAndGlyphs">housing</text>
<text x="1195.8" y="1180.2" textLength="31.4" lengthAdjust="spacingAndGlyphs">boom</text>
<text x="1149.3" y="1243.9" textLength="57.1" lengthAdjust="spacingAndGlyphs">"recovery"</text>
</g>
<text x="1222.5" y="1249.5" font-size="6.5" fill="#333" textLength="18" lengthAdjust="spacingAndGlyphs">42.7%</text>
<text x="796.8" y="1317.3" font-size="9.5" font-style="italic" fill="#222" textLength="114.4" lengthAdjust="spacingAndGlyphs">Last update Aug  6, 2015</text>
<text x="1133.3" y="1313.2" font-size="9.5" font-style="italic" fill="#222" textLength="122.7" lengthAdjust="spacingAndGlyphs">http://www.mdbriefing.com</text>
<text x="788.8" y="1347.2" font-size="14.8" font-weight="bold" fill="#111" textLength="459.9" lengthAdjust="spacingAndGlyphs">They are destroying our financial prospects. This was OWS’s point.</text>

<!-- ===== WHITE PRIVILEGE ===== -->
<rect x="1288.8" y="1059.5" width="255.6" height="43.3" fill="#000"/>
<rect x="1288.8" y="1102.8" width="255.6" height="222" fill="#fff"/>
<rect x="1288.8" y="1323.6" width="255.6" height="1.4" fill="#222"/>
<text x="1303.4" y="1094.4" font-size="29" font-weight="bold" fill="#fff" stroke="#fff" stroke-width="0.8" class="narrow" textLength="222.3" lengthAdjust="spacingAndGlyphs">White privilege is</text>
<text x="1416.4" y="1119.2" font-size="9.5" font-weight="bold" fill="#222" class="serif" text-anchor="middle" textLength="142" lengthAdjust="spacingAndGlyphs">Racial Representation Of US</text>
<text x="1416.7" y="1132.8" font-size="9.5" font-weight="bold" fill="#222" class="serif" text-anchor="middle" textLength="59" lengthAdjust="spacingAndGlyphs">Billionaires</text>
<g stroke="#c8c8c8" stroke-width="0.6">
<line x1="1317.4" y1="1136.3" x2="1506.4" y2="1136.3"/><line x1="1317.4" y1="1155.9" x2="1506.4" y2="1155.9"/><line x1="1317.4" y1="1175.4" x2="1506.4" y2="1175.4"/><line x1="1317.4" y1="1195" x2="1506.4" y2="1195"/><line x1="1317.4" y1="1214.5" x2="1506.4" y2="1214.5"/><line x1="1317.4" y1="1234.1" x2="1506.4" y2="1234.1"/><line x1="1317.4" y1="1253.6" x2="1506.4" y2="1253.6"/><line x1="1317.4" y1="1273.8" x2="1506.4" y2="1273.8"/><line x1="1317.4" y1="1293.6" x2="1506.4" y2="1293.6"/><line x1="1317.4" y1="1313.7" x2="1506.4" y2="1313.7"/>
</g>
<line x1="1317.4" y1="1136.3" x2="1317.4" y2="1313.7" stroke="#999" stroke-width="0.8"/>
<g font-size="6.2" fill="#333" class="serif" text-anchor="end">
<text x="1312.5" y="1138.3">30.00</text><text x="1312.5" y="1157.9">20.00</text><text x="1312.5" y="1177.4">10.00</text><text x="1312.5" y="1197">0.00</text><text x="1312.5" y="1216.5">-10.00</text><text x="1312.5" y="1236.1">-20.00</text><text x="1312.5" y="1255.6">-30.00</text><text x="1312.5" y="1275.8">-40.00</text><text x="1312.5" y="1295.6">-50.00</text><text x="1312.5" y="1315.7">-60.00</text>
</g>
<rect x="1329.6" y="1161.1" width="23.7" height="33.9" fill="url(#gJew)"/>
<rect x="1377" y="1195" width="23.6" height="2.7" fill="#d9534f"/>
<rect x="1424.1" y="1195" width="23.3" height="3.6" fill="#a5c35a"/>
<rect x="1471" y="1195" width="23.6" height="97.7" fill="url(#gBlk)"/>
<g font-size="5.5" fill="#333" class="serif" text-anchor="middle">
<text x="1341.4" y="1179.8">17.14</text>
<text x="1389" y="1203">-1.21</text>
<text x="1435.6" y="1190.8">-1.60</text>
<text x="1478.5" y="1301">-49.60</text>
<text x="1341.4" y="1209.5">Jewish</text>
<text x="1389" y="1209.5">White</text>
<text x="1435.6" y="1209.5">Asian</text>
<text x="1482.7" y="1209.5">Black</text>
</g>
<rect x="1517.5" y="1175.3" width="3.2" height="1.8" fill="#4f81bd"/>
<rect x="1517.5" y="1193.5" width="3.2" height="1.8" fill="#c0504d"/>
<rect x="1517.5" y="1212.3" width="3.2" height="1.8" fill="#9bbb59"/>
<rect x="1517.5" y="1230.4" width="3.2" height="1.8" fill="#8064a2"/>
<g font-size="5.8" fill="#444" class="serif">
<text x="1522" y="1178.3">Jewish</text><text x="1522" y="1196.5">White</text><text x="1522" y="1215.3">Asian</text><text x="1522" y="1233.4">Black</text>
</g>
<polygon points="0,0 -13,-10 -13,-5 -32,-5 -32,5 -13,5 -13,10" fill="#5594d8" stroke="#8bb8e8" stroke-width="0.6" transform="translate(1355.6,1170.7) rotate(157.5)"/>
<polygon points="1475.3,1157 1489.3,1157 1489.3,1172.6 1496.7,1172.6 1482.2,1185.6 1467.7,1172.6 1475.3,1172.6" fill="#9b82c4"/>
<polygon points="1387.8,1214.4 1402.3,1227.7 1395.4,1227.7 1395.4,1242.5 1380.7,1242.5 1380.7,1227.7 1373.3,1227.7" fill="#e8716b"/>
<rect x="1362.5" y="1139.5" width="31.1" height="10" fill="#4f7fc2"/>
<rect x="1468.8" y="1139.5" width="30.1" height="10" fill="#8a72b5"/>
<rect x="1369" y="1247.2" width="34.3" height="10.5" fill="#c9413d"/>
<g font-size="11" font-weight="bold" fill="#fff" stroke="#222" stroke-width="1.4" paint-order="stroke" class="narrow">
<text x="1362.5" y="1148.5" textLength="172.5" lengthAdjust="spacingAndGlyphs">These people telling these people</text>
<text x="1349.6" y="1256.4" textLength="92.4" lengthAdjust="spacingAndGlyphs">That these people</text>
<text x="1329.2" y="1271.8" textLength="133.2" lengthAdjust="spacingAndGlyphs">have the unfair advantage</text>
</g>
<text x="1289.5" y="1344.5" font-size="15.5" font-weight="bold" fill="#111" textLength="254.5" lengthAdjust="spacingAndGlyphs">We also know who did this and why.</text>
</svg>
</body></html>
